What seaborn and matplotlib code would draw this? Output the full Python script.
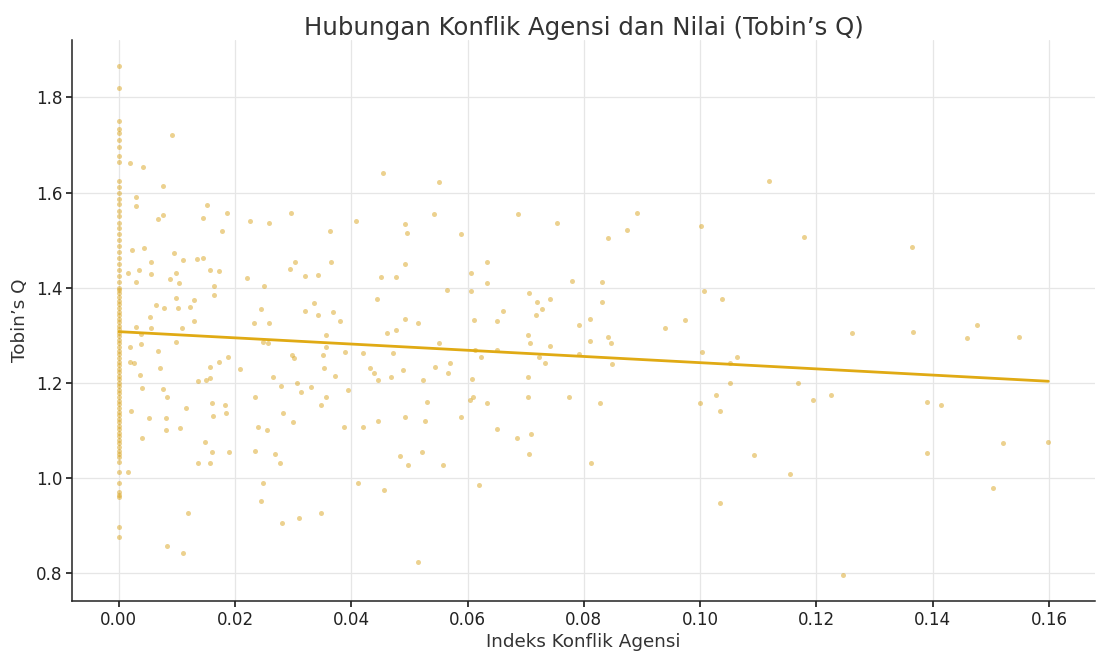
import numpy as np
import pandas as pd
import matplotlib
matplotlib.use('Agg')
import matplotlib.pyplot as plt
import seaborn as sns

# Tobin's Q untuk perusahaan tanpa konflik agensi (indeks = 0)
q_indeks_nol = [1.866, 1.820, 1.751, 1.734, 1.724, 1.710, 1.696, 1.677, 1.665,
                1.625, 1.612, 1.600, 1.587, 1.575, 1.562, 1.550, 1.537, 1.525, 1.512,
                1.500, 1.487, 1.475, 1.462, 1.450, 1.437, 1.425, 1.412, 1.400,
                1.395, 1.388, 1.380, 1.373, 1.365, 1.358, 1.350, 1.343, 1.335, 1.328,
                1.320, 1.313, 1.305, 1.298, 1.290, 1.283, 1.275, 1.268, 1.260, 1.253,
                1.245, 1.238, 1.230, 1.223, 1.215, 1.208, 1.200, 1.193, 1.185, 1.178,
                1.170, 1.163, 1.155, 1.148, 1.140, 1.133, 1.125, 1.118, 1.110, 1.103,
                1.095, 1.088, 1.080, 1.073, 1.065, 1.058, 1.050,
                1.045, 1.034, 1.014, 0.990, 0.972, 0.965, 0.960, 0.898, 0.877]

# Perusahaan dengan indeks konflik > 0
indeks = [0.0091, 0.0019, 0.0042, 0.0076, 0.0455, 0.0030, 0.0030, 0.0068, 0.0076, 0.0151,
          0.0144, 0.0186, 0.0178, 0.0225, 0.0258, 0.0296, 0.0364, 0.0408, 0.0022, 0.0043,
          0.0056, 0.0095, 0.0110, 0.0135, 0.0145, 0.0016, 0.0034, 0.0029, 0.0056, 0.0088,
          0.0098, 0.0103, 0.0157, 0.0173, 0.0164, 0.0221, 0.0250, 0.0294, 0.0303, 0.0321,
          0.0342, 0.0365, 0.0451, 0.0477, 0.0099, 0.0164, 0.0064, 0.0078, 0.0102, 0.0122,
          0.0129, 0.0244, 0.0320, 0.0336, 0.0343, 0.0369, 0.0444, 0.0053,
          0.0029, 0.0055, 0.0129, 0.0108, 0.0232, 0.0258, 0.0380, 0.0461, 0.0477, 0.0019,
          0.0038, 0.0038, 0.0068, 0.0099, 0.0188, 0.0248, 0.0257, 0.0297, 0.0301, 0.0356,
          0.0357, 0.0352, 0.0389, 0.0420, 0.0019, 0.0026, 0.0071, 0.0037, 0.0173, 0.0157,
          0.0157, 0.0136, 0.0150, 0.0208, 0.0266, 0.0353, 0.0371, 0.0432, 0.0439, 0.0446,
          0.0469, 0.0039, 0.0076, 0.0082, 0.0234, 0.0279, 0.0306, 0.0314, 0.0330, 0.0394,
          0.0357, 0.0161, 0.0182, 0.0184, 0.0162, 0.0347, 0.0020, 0.0115, 0.0052, 0.0081,
          0.0081, 0.0105, 0.0240, 0.0255, 0.0282, 0.0299, 0.0387, 0.0420, 0.0446, 0.0039,
          0.0148, 0.0160, 0.0189, 0.0235, 0.0268, 0.0277, 0.0136, 0.0157, 0.0016, 0.0248,
          0.0412, 0.0456, 0.0244, 0.0119, 0.0281, 0.0310, 0.0347, 0.0082, 0.0111,
          0.0551, 0.0542, 0.0687, 0.0753, 0.0892, 0.0874, 0.0842, 0.1002, 0.0492, 0.0495,
          0.0588, 0.0492, 0.0633, 0.0606, 0.0634, 0.0779, 0.0832, 0.0565, 0.0606, 0.1006,
          0.1038, 0.0705, 0.0719, 0.0728, 0.0741, 0.0718, 0.0832, 0.0661, 0.0492, 0.0515,
          0.0611, 0.0651, 0.0811, 0.0792, 0.0703, 0.0707, 0.0741, 0.0811, 0.0842, 0.0846,
          0.0940, 0.0974, 0.0472, 0.0550, 0.0612, 0.0623, 0.0651, 0.0722, 0.0733, 0.0792,
          0.0848, 0.1004, 0.1052, 0.1063, 0.0489, 0.0544, 0.0570, 0.0567, 0.0524, 0.0607,
          0.0604, 0.0610, 0.0703, 0.0530, 0.0633, 0.0703, 0.0775, 0.0828, 0.1052, 0.1027,
          0.1034, 0.0999, 0.0492, 0.0527, 0.0588, 0.0651, 0.0685, 0.0709, 0.0705, 0.0484,
          0.0498, 0.0521, 0.0557, 0.0812, 0.0620, 0.1034, 0.0515,
          0.1118, 0.1179, 0.1365, 0.1262, 0.1366, 0.1477, 0.1459, 0.1548, 0.1169, 0.1194,
          0.1225, 0.1391, 0.1415, 0.1092, 0.1155, 0.1391, 0.1521, 0.1599, 0.1503, 0.1246]

tobins_q = [1.721, 1.663, 1.653, 1.613, 1.640, 1.590, 1.571, 1.545, 1.552, 1.573,
            1.546, 1.557, 1.520, 1.541, 1.536, 1.557, 1.520, 1.541, 1.479, 1.484,
            1.455, 1.474, 1.458, 1.461, 1.463, 1.430, 1.437, 1.412, 1.428, 1.419,
            1.431, 1.411, 1.438, 1.435, 1.404, 1.421, 1.404, 1.440, 1.454, 1.424,
            1.426, 1.455, 1.423, 1.423, 1.379, 1.384, 1.363, 1.358, 1.358, 1.360,
            1.374, 1.356, 1.351, 1.367, 1.342, 1.349, 1.376, 1.339,
            1.318, 1.316, 1.330, 1.315, 1.326, 1.325, 1.330, 1.304, 1.312, 1.276,
            1.281, 1.302, 1.267, 1.287, 1.255, 1.287, 1.283, 1.259, 1.252, 1.301,
            1.276, 1.259, 1.266, 1.263, 1.245, 1.241, 1.232, 1.217, 1.245, 1.234,
            1.210, 1.204, 1.206, 1.229, 1.213, 1.231, 1.215, 1.231, 1.220, 1.206,
            1.213, 1.189, 1.187, 1.171, 1.171, 1.194, 1.199, 1.182, 1.191, 1.185,
            1.171, 1.159, 1.154, 1.137, 1.131, 1.154, 1.141, 1.147, 1.126, 1.126,
            1.102, 1.105, 1.108, 1.102, 1.137, 1.119, 1.108, 1.108, 1.121, 1.085,
            1.077, 1.056, 1.056, 1.058, 1.051, 1.033, 1.033, 1.032, 1.013, 0.990,
            0.990, 0.975, 0.953, 0.927, 0.906, 0.917, 0.928, 0.857, 0.843,
            1.622, 1.554, 1.554, 1.536, 1.557, 1.522, 1.505, 1.529, 1.533, 1.516,
            1.513, 1.449, 1.454, 1.430, 1.410, 1.414, 1.412, 1.395, 1.393, 1.393,
            1.376, 1.388, 1.370, 1.355, 1.376, 1.342, 1.370, 1.351, 1.334, 1.326,
            1.332, 1.330, 1.335, 1.321, 1.301, 1.284, 1.277, 1.289, 1.296, 1.283,
            1.316, 1.332, 1.264, 1.283, 1.269, 1.254, 1.269, 1.255, 1.241, 1.261,
            1.240, 1.266, 1.241, 1.255, 1.227, 1.234, 1.241, 1.220, 1.206, 1.208,
            1.164, 1.170, 1.212, 1.161, 1.157, 1.171, 1.170, 1.157, 1.199, 1.175,
            1.142, 1.157, 1.129, 1.121, 1.129, 1.104, 1.084, 1.093, 1.051, 1.047,
            1.028, 1.056, 1.028, 1.032, 0.986, 0.947, 0.825,
            1.625, 1.506, 1.485, 1.304, 1.307, 1.321, 1.295, 1.296, 1.201, 1.164,
            1.175, 1.161, 1.154, 1.049, 1.009, 1.053, 1.074, 1.076, 0.979, 0.796]

df = pd.DataFrame({
    'Indeks Konflik Agensi': [0.0] * len(q_indeks_nol) + indeks,
    "Tobin's Q": q_indeks_nol + tobins_q,
})

sns.set_theme(style='whitegrid', rc={
    'axes.edgecolor': '#222222',
    'axes.linewidth': 1.1,
    'grid.color': '#e6e6e6',
    'grid.linewidth': 0.9,
    'xtick.bottom': True,
    'ytick.left': True,
    'xtick.major.size': 4,
    'ytick.major.size': 4,
    'xtick.color': '#222222',
    'ytick.color': '#222222',
})
plt.rcParams['font.family'] = ['DejaVu Sans']

fig, ax = plt.subplots(figsize=(10.97, 6.51), dpi=100)

# scatter + garis regresi linear
sns.regplot(data=df, x='Indeks Konflik Agensi', y="Tobin's Q", ci=None,
            color='goldenrod', ax=ax,
            scatter_kws={'alpha': 0.5, 's': 13, 'linewidths': 0},
            line_kws={'linewidth': 2, 'color': '#e0aa14'})
sns.despine(ax=ax)

ax.set_title('Hubungan Konflik Agensi dan Nilai (Tobin’s Q)', fontsize=17.6, color='#333333', pad=4)
ax.set_xlabel('Indeks Konflik Agensi', fontsize=13.2, color='#333333', labelpad=3)
ax.set_ylabel('Tobin’s Q', fontsize=13.2, color='#333333', labelpad=5)
ax.tick_params(labelsize=12.1, pad=3)
ax.set_xticks([0.0, 0.02, 0.04, 0.06, 0.08, 0.10, 0.12, 0.14, 0.16])

fig.subplots_adjust(left=0.066, right=0.998, top=0.938, bottom=0.077)
fig.savefig('out.png', dpi=100)
